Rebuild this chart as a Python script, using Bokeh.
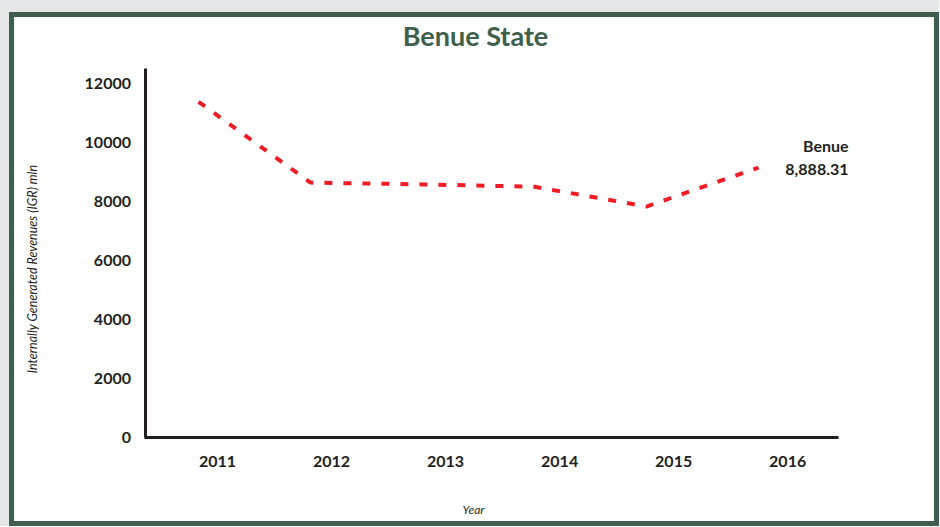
import math
from bokeh.plotting import figure
from bokeh.models import Label, FixedTicker, Range1d, CustomJSTickFormatter
from bokeh.layouts import column
from bokeh.embed import file_html
from bokeh.resources import INLINE

# ---- data ----
years = [2011, 2012, 2013, 2014, 2015, 2016]
igr = [11380, 8640, 8580, 8500, 7830, 9150]
y_ticks = [0, 2000, 4000, 6000, 8000, 10000, 12000]
series_name = "Benue"
end_value_label = "8,888.31"
title_text = "Benue State"
x_title = "Year"
y_title = "Internally Generated Revenues (IGR)  mln"

GREEN = "#3e5f4b"
INK = "#231f20"
RED = "#ee1d25"
FONT = "Lato"

W, H = 920, 504
# scales: 112 px per year, 0.0295 px per unit
x_start, x_end = 2009.357, 2017.571
y_start, y_end = -2847.5, 14237.3
y_axis_x = 2010.531        # where the value axis stands
x_axis_end = 2016.714      # where the year axis line stops
y_axis_top = 12500         # where the value axis line stops

p = figure(width=W, height=H, output_backend="svg", toolbar_location=None,
           x_range=Range1d(x_start, x_end), y_range=Range1d(y_start, y_end),
           min_border=0, min_border_left=0, min_border_right=0,
           min_border_top=0, min_border_bottom=0,
           background_fill_color="white", border_fill_color="white",
           outline_line_color=None)

p.line(years, igr, line_color=RED, line_width=4, line_dash="8 11")

p.xgrid.visible = False
p.ygrid.visible = False

# year labels sit a little to the right of their points, as in the original
p.xaxis.ticker = FixedTicker(ticks=[y + 0.17 + (y - years[0]) * 0.018 for y in years])
p.xaxis.formatter = CustomJSTickFormatter(code="return Math.floor(tick).toString();")
p.yaxis.ticker = FixedTicker(ticks=y_ticks)
p.xaxis.fixed_location = 0
p.yaxis.fixed_location = y_axis_x
p.xaxis.bounds = (y_axis_x - 0.012, x_axis_end)
p.yaxis.bounds = (0, y_axis_top)

for ax in (p.xaxis[0], p.yaxis[0]):
    ax.axis_line_width = 3
    ax.axis_line_color = INK
    ax.major_tick_line_color = None
    ax.minor_tick_line_color = None
    ax.major_tick_out = 0
    ax.major_tick_in = 0
    ax.major_label_text_font = FONT
    ax.major_label_text_font_style = "bold"
    ax.major_label_text_font_size = "16px"
    ax.major_label_text_color = INK

p.xaxis.major_label_standoff = 19
p.yaxis.major_label_standoff = 15

def screen_label(text, x, y, size, style, color=INK, angle=0.0):
    return Label(x=x, y=y, x_units="screen", y_units="screen", text=text,
                 text_align="center", text_baseline="middle", text_font=FONT,
                 text_font_style=style, text_font_size=size, text_color=color,
                 angle=angle)

# chart title and axis titles
p.add_layout(screen_label(title_text, 461, H - 18, "27px", "bold", GREEN))
p.add_layout(screen_label(x_title, 459, H - 492, "12px", "italic"))
p.add_layout(screen_label(y_title, 18, H - 250, "12.5px", "italic", angle=math.pi / 2))

# end-of-line labels
p.add_layout(Label(x=years[-1], y=igr[-1], x_offset=90, y_offset=-2, text=end_value_label,
                   text_align="right", text_baseline="middle", text_font=FONT,
                   text_font_style="bold", text_font_size="16px", text_color=INK))
p.add_layout(Label(x=years[-1], y=igr[-1], x_offset=90, y_offset=22, text=series_name,
                   text_align="right", text_baseline="middle", text_font=FONT,
                   text_font_style="bold", text_font_size="16px", text_color=INK))

inner = column(p, styles={"border": "5px solid " + GREEN})
outer = column(inner, styles={"background-color": "#e5e7e9", "padding": "12px 0 0 9px"})

open("out.html", "w").write(file_html(outer, INLINE))
